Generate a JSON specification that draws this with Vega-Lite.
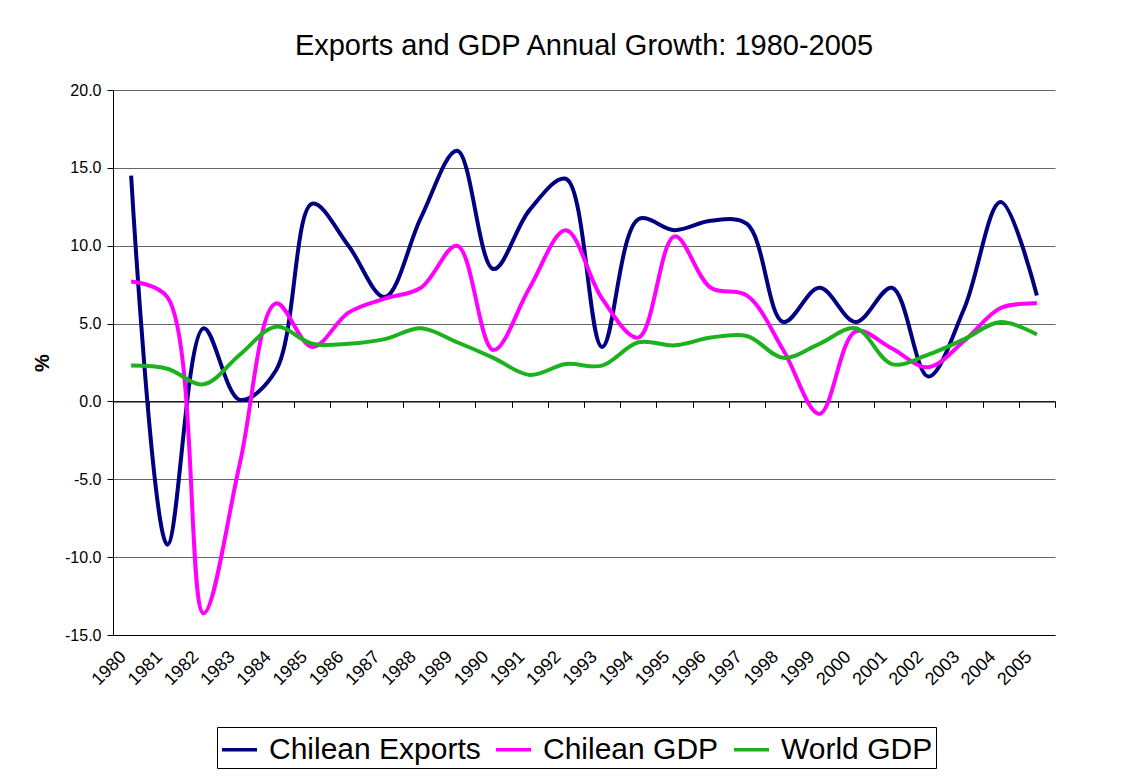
{
  "$schema": "https://vega.github.io/schema/vega-lite/v6.json",
  "autosize": {"type": "none"},
  "width": 942,
  "height": 545,
  "padding": {"left": 113, "top": 90, "right": 80, "bottom": 143},
  "background": "white",
  "title": {"text": "Exports and GDP Annual Growth: 1980-2005", "font": "Liberation Sans", "fontSize": 29, "fontWeight": "normal", "color": "black", "anchor": "middle", "frame": "group", "offset": -2, "baseline": "alphabetic"},
  "config": {"view": {"stroke": null}, "font": "Liberation Sans"},
  "data": {"values": [
    {"year": 1980, "series": "Chilean Exports", "value": 14.5},
    {"year": 1981, "series": "Chilean Exports", "value": -9.2},
    {"year": 1982, "series": "Chilean Exports", "value": 4.7},
    {"year": 1983, "series": "Chilean Exports", "value": 0.1},
    {"year": 1984, "series": "Chilean Exports", "value": 2.0},
    {"year": 1985, "series": "Chilean Exports", "value": 12.7},
    {"year": 1986, "series": "Chilean Exports", "value": 10.0},
    {"year": 1987, "series": "Chilean Exports", "value": 6.7},
    {"year": 1988, "series": "Chilean Exports", "value": 11.8},
    {"year": 1989, "series": "Chilean Exports", "value": 16.1},
    {"year": 1990, "series": "Chilean Exports", "value": 8.5},
    {"year": 1991, "series": "Chilean Exports", "value": 12.3},
    {"year": 1992, "series": "Chilean Exports", "value": 14.3},
    {"year": 1993, "series": "Chilean Exports", "value": 3.5},
    {"year": 1994, "series": "Chilean Exports", "value": 11.7},
    {"year": 1995, "series": "Chilean Exports", "value": 11.0},
    {"year": 1996, "series": "Chilean Exports", "value": 11.6},
    {"year": 1997, "series": "Chilean Exports", "value": 11.4},
    {"year": 1998, "series": "Chilean Exports", "value": 5.1},
    {"year": 1999, "series": "Chilean Exports", "value": 7.3},
    {"year": 2000, "series": "Chilean Exports", "value": 5.1},
    {"year": 2001, "series": "Chilean Exports", "value": 7.3},
    {"year": 2002, "series": "Chilean Exports", "value": 1.6},
    {"year": 2003, "series": "Chilean Exports", "value": 6.0},
    {"year": 2004, "series": "Chilean Exports", "value": 12.8},
    {"year": 2005, "series": "Chilean Exports", "value": 6.8},
    {"year": 1980, "series": "Chilean GDP", "value": 7.7},
    {"year": 1981, "series": "Chilean GDP", "value": 6.7},
    {"year": 1982, "series": "Chilean GDP", "value": -13.6},
    {"year": 1983, "series": "Chilean GDP", "value": -4.0},
    {"year": 1984, "series": "Chilean GDP", "value": 6.3},
    {"year": 1985, "series": "Chilean GDP", "value": 3.5},
    {"year": 1986, "series": "Chilean GDP", "value": 5.7},
    {"year": 1987, "series": "Chilean GDP", "value": 6.6},
    {"year": 1988, "series": "Chilean GDP", "value": 7.3},
    {"year": 1989, "series": "Chilean GDP", "value": 10.0},
    {"year": 1990, "series": "Chilean GDP", "value": 3.3},
    {"year": 1991, "series": "Chilean GDP", "value": 7.3},
    {"year": 1992, "series": "Chilean GDP", "value": 11.0},
    {"year": 1993, "series": "Chilean GDP", "value": 6.6},
    {"year": 1994, "series": "Chilean GDP", "value": 4.1},
    {"year": 1995, "series": "Chilean GDP", "value": 10.6},
    {"year": 1996, "series": "Chilean GDP", "value": 7.3},
    {"year": 1997, "series": "Chilean GDP", "value": 6.8},
    {"year": 1998, "series": "Chilean GDP", "value": 3.3},
    {"year": 1999, "series": "Chilean GDP", "value": -0.8},
    {"year": 2000, "series": "Chilean GDP", "value": 4.5},
    {"year": 2001, "series": "Chilean GDP", "value": 3.4},
    {"year": 2002, "series": "Chilean GDP", "value": 2.2},
    {"year": 2003, "series": "Chilean GDP", "value": 3.9},
    {"year": 2004, "series": "Chilean GDP", "value": 6.0},
    {"year": 2005, "series": "Chilean GDP", "value": 6.3},
    {"year": 1980, "series": "World GDP", "value": 2.3},
    {"year": 1981, "series": "World GDP", "value": 2.1},
    {"year": 1982, "series": "World GDP", "value": 1.1},
    {"year": 1983, "series": "World GDP", "value": 3.0},
    {"year": 1984, "series": "World GDP", "value": 4.8},
    {"year": 1985, "series": "World GDP", "value": 3.7},
    {"year": 1986, "series": "World GDP", "value": 3.7},
    {"year": 1987, "series": "World GDP", "value": 4.0},
    {"year": 1988, "series": "World GDP", "value": 4.7},
    {"year": 1989, "series": "World GDP", "value": 3.8},
    {"year": 1990, "series": "World GDP", "value": 2.8},
    {"year": 1991, "series": "World GDP", "value": 1.7},
    {"year": 1992, "series": "World GDP", "value": 2.4},
    {"year": 1993, "series": "World GDP", "value": 2.3},
    {"year": 1994, "series": "World GDP", "value": 3.8},
    {"year": 1995, "series": "World GDP", "value": 3.6},
    {"year": 1996, "series": "World GDP", "value": 4.1},
    {"year": 1997, "series": "World GDP", "value": 4.2},
    {"year": 1998, "series": "World GDP", "value": 2.8},
    {"year": 1999, "series": "World GDP", "value": 3.7},
    {"year": 2000, "series": "World GDP", "value": 4.7},
    {"year": 2001, "series": "World GDP", "value": 2.4},
    {"year": 2002, "series": "World GDP", "value": 3.0},
    {"year": 2003, "series": "World GDP", "value": 4.0},
    {"year": 2004, "series": "World GDP", "value": 5.1},
    {"year": 2005, "series": "World GDP", "value": 4.3}
  ]},
  "resolve": {"axis": {"x": "independent"}, "scale": {"x": "shared"}},
  "layer": [
    {
      "mark": {"type": "line", "opacity": 0},
      "encoding": {
        "x": {"field": "year", "type": "quantitative",
          "scale": {"domain": [1979.5, 2005.5], "nice": false, "zero": false},
          "axis": {"orient": "bottom", "offset": -233.6, "values": [1979.5,1980.5,1981.5,1982.5,1983.5,1984.5,1985.5,1986.5,1987.5,1988.5,1989.5,1990.5,1991.5,1992.5,1993.5,1994.5,1995.5,1996.5,1997.5,1998.5,1999.5,2000.5,2001.5,2002.5,2003.5,2004.5,2005.5],
            "labels": false, "grid": false, "title": null, "domain": true, "domainColor": "black", "domainWidth": 1.2, "ticks": true, "tickColor": "black", "tickSize": 6, "tickWidth": 1}},
        "y": {"field": "value", "type": "quantitative", "title": "%",
          "scale": {"domain": [-15, 20], "nice": false, "zero": false}},
        "detail": {"field": "series"}
      }
    },
    {
      "mark": {"type": "line", "interpolate": "catmull-rom", "strokeWidth": 4},
      "encoding": {
        "x": {"field": "year", "type": "quantitative",
          "axis": {"orient": "bottom", "values": [1980,1981,1982,1983,1984,1985,1986,1987,1988,1989,1990,1991,1992,1993,1994,1995,1996,1997,1998,1999,2000,2001,2002,2003,2004,2005],
            "format": "d", "labelAngle": -45, "labelAlign": "right", "labelBaseline": "middle", "labelFontSize": 18, "labelColor": "black", "labelFont": "Liberation Sans", "labelPadding": 19, "labelOffset": -8,
            "ticks": false, "grid": false, "title": null, "domain": true, "domainColor": "black", "labelOverlap": false}},
        "y": {"field": "value", "type": "quantitative", "title": "%",
          "axis": {"values": [-15,-10,-5,0,5,10,15,20], "labelExpr": "replace(format(datum.value, '.1f'), '\u2212', '-')", "labelFontSize": 16, "labelColor": "black", "labelFont": "Liberation Sans", "labelPadding": 6,
            "domain": true, "domainColor": "black", "ticks": true, "tickColor": "black", "tickSize": 6,
            "grid": true, "gridColor": "#666666", "gridWidth": 1,
            "titleFontSize": 20, "titleFontWeight": "bold", "titleColor": "black", "titleFont": "Liberation Sans", "titlePadding": 12}},
        "color": {"field": "series", "type": "nominal",
          "scale": {"domain": ["Chilean Exports", "Chilean GDP", "World GDP"], "range": ["#000080", "#FF00FF", "#1DB21D"]},
          "legend": {"orient": "none", "legendX": 104, "legendY": 637, "direction": "horizontal", "title": null,
            "labelFontSize": 30, "labelFont": "Liberation Sans", "labelColor": "black", "labelLimit": 400,
            "symbolType": "stroke", "symbolSize": 1225, "symbolStrokeWidth": 3.5,
            "strokeColor": "black", "fillColor": "white", "padding": 3, "columnPadding": 8, "labelOffset": 10}}
      }
    }
  ]
}
